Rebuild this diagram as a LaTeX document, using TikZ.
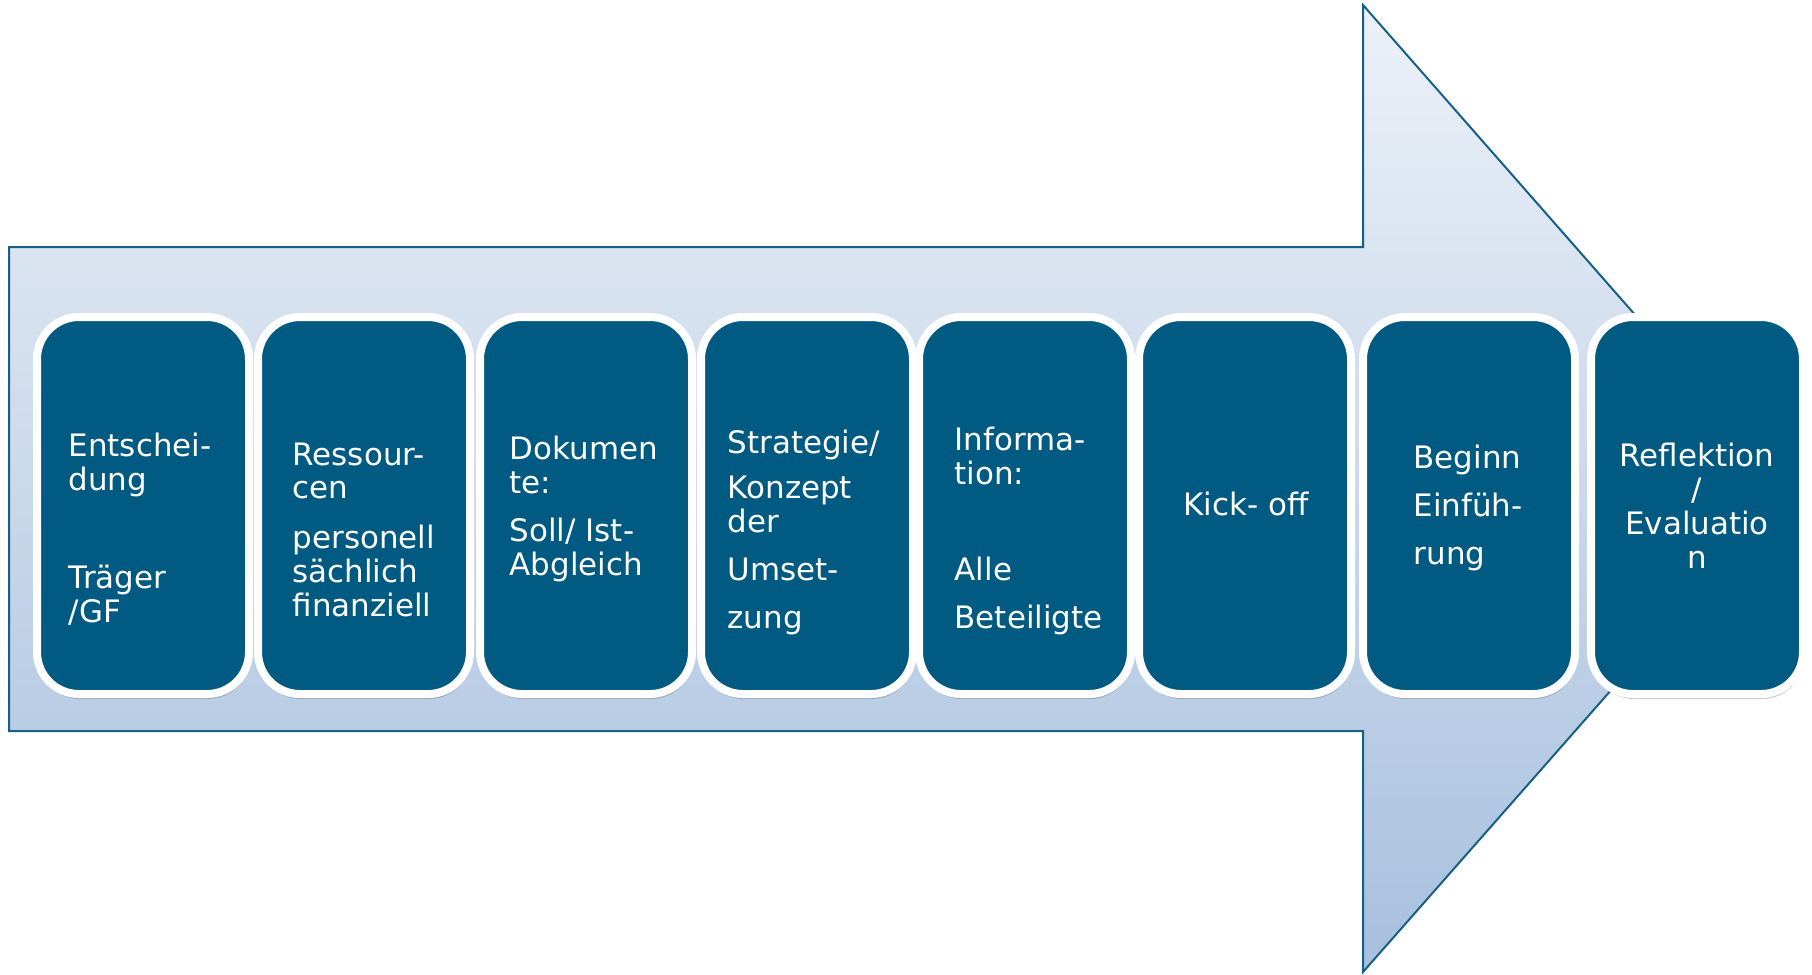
\documentclass[tikz,border=0pt]{standalone}
\usepackage{fontspec}
\newfontfamily\stepfont{DejaVu Sans}
\usetikzlibrary{positioning,shadows}
\definecolor{stepblue}{RGB}{0,90,130}
\definecolor{arrowtop}{RGB}{236,241,248}
\definecolor{arrowbot}{RGB}{167,192,222}
\definecolor{arrowline}{RGB}{22,96,134}
\tikzset{
  stepbox/.style={draw=white, line width=0.8mm, fill=stepblue, rounded corners=4.2mm,
    minimum width=21.2mm, minimum height=37.7mm, inner sep=0pt,
    drop shadow={shadow xshift=0.1mm, shadow yshift=-0.5mm, opacity=0.35, fill=black!60}},
  steptext/.style={text=white, font=\stepfont\fontsize{8.8}{9.6}\selectfont, align=left, inner sep=0pt, anchor=base west},
}
\begin{document}
\begin{tikzpicture}[x=0.1mm,y=-0.1mm]
	\useasboundingbox (0,0) rectangle (1812,974);
	% big arrow
	\draw [arrowline, line width=0.2mm, top color=arrowtop, bottom color=arrowbot] (9,247) -- (1363,247) -- (1363,5) -- (1788,489) -- (1363,972) -- (1363,731) -- (9,731) -- cycle;
	% steps
	\node [stepbox] (b1) at (143,505.5) {};
	\node [stepbox, right=0.1mm of b1] (b2) {};
	\node [stepbox, right=0.2mm of b2] (b3) {};
	\node [stepbox, right=0.1mm of b3] (b4) {};
	\node [stepbox, right=-0.2mm of b4] (b5) {};
	\node [stepbox, right=0mm of b5] (b6) {};
	\node [stepbox, right=0.4mm of b6] (b7) {};
	\node [stepbox, right=0.8mm of b7] (b8) {};
	% texts (anchored at the last line)
	\node [steptext] (t1) at (68,622) {Entschei-\\dung\\[6.4mm]Träger\\/GF};
	\node [steptext] (t2) at (292,616) {Ressour-\\cen\\[1.6mm]personell\\sächlich\\finanziell};
	\node [steptext] (t3) at (509,575) {Dokumen\\te:\\[1.4mm]Soll/ Ist-\\Abgleich};
	\node [steptext] (t4) at (727,628) {Strategie/\\[1.2mm]Konzept\\der\\[1.4mm]Umset-\\[1.4mm]zung};
	\node [steptext] (t5) at (954,628) {Informa-\\tion:\\[6.2mm]Alle\\[1.4mm]Beteiligte};
	\node [steptext, anchor=base] (t6) at (1246,515) {Kick- off};
	\node [steptext] (t7) at (1413,564) {Beginn\\[1.4mm]Einfüh-\\[1.4mm]rung};
	\node [steptext, anchor=base, align=center] (t8) at (1697,568) {Reflektion\\/\\Evaluatio\\n};
\end{tikzpicture}
\end{document}
